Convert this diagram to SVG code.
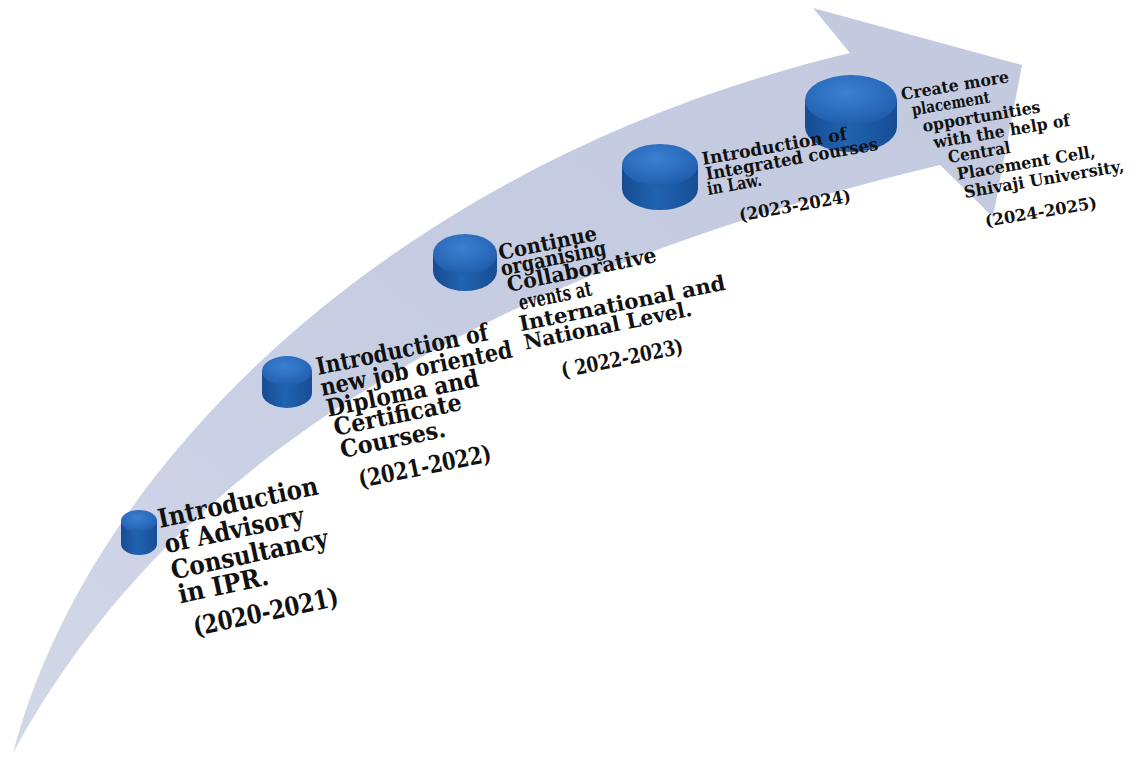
<svg xmlns="http://www.w3.org/2000/svg" width="1138" height="758" viewBox="0 0 1138 758">
<defs>
<linearGradient id="arrowFill" x1="0" y1="1" x2="1" y2="0">
<stop offset="0" stop-color="#d3d8e8"/>
<stop offset="0.5" stop-color="#c6cde2"/>
<stop offset="1" stop-color="#c3cadf"/>
</linearGradient>
<radialGradient id="topFace" cx="0.45" cy="0.35" r="0.7">
<stop offset="0" stop-color="#3b80d2"/>
<stop offset="0.7" stop-color="#2867b8"/>
<stop offset="1" stop-color="#1d5aa6"/>
</radialGradient>
<linearGradient id="sideFace" x1="0" y1="0" x2="1" y2="0">
<stop offset="0" stop-color="#164c92"/>
<stop offset="0.45" stop-color="#2063b0"/>
<stop offset="1" stop-color="#174e95"/>
</linearGradient>
<style>
.side{fill:url(#sideFace);}
.top{fill:url(#topFace);}
.lbl{font-family:"DejaVu Serif","Liberation Serif",serif;font-weight:bold;fill:#111;}
</style>
</defs>
<rect width="1138" height="758" fill="#ffffff"/>
<g id="connectors">
<path d="M13,753 C90,460 400,160 850,53 L813,8 L1022,65 L993,217 L940,165 C420,290 150,500 13,753 Z" fill="url(#arrowFill)"/>
</g>
<g id="node1">
<path class="side" d="M121,521 V544 A18,11 0 0 0 157,544 V521 Z"/>
<ellipse class="top" cx="139" cy="521" rx="18" ry="11"/>
<g transform="translate(160,528) rotate(-12)" class="lbl" font-size="26">
<text x="0" y="0" textLength="163" lengthAdjust="spacingAndGlyphs">Introduction</text>
<text x="1" y="26" textLength="142" lengthAdjust="spacingAndGlyphs">of Advisory</text>
<text x="2" y="53" textLength="160" lengthAdjust="spacingAndGlyphs">Consultancy</text>
<text x="4" y="78" textLength="92" lengthAdjust="spacingAndGlyphs">in IPR.</text>
<text x="12" y="113" textLength="148" lengthAdjust="spacingAndGlyphs">(2020-2021)</text>
</g>
</g>
<g id="node2">
<path class="side" d="M262,371 V393 A25,15 0 0 0 312,393 V371 Z"/>
<ellipse class="top" cx="287" cy="371" rx="25" ry="15"/>
<g transform="translate(318,375) rotate(-11.5)" class="lbl" font-size="24">
<text x="0" y="0" textLength="175" lengthAdjust="spacingAndGlyphs">Introduction of</text>
<text x="0" y="21.5" textLength="195" lengthAdjust="spacingAndGlyphs">new job oriented</text>
<text x="1.5" y="43" textLength="155" lengthAdjust="spacingAndGlyphs">Diploma and</text>
<text x="5" y="63" textLength="130" lengthAdjust="spacingAndGlyphs">Certificate</text>
<text x="7" y="86" textLength="107" lengthAdjust="spacingAndGlyphs">Courses.</text>
<text x="19" y="119" textLength="135" lengthAdjust="spacingAndGlyphs">(2021-2022)</text>
</g>
</g>
<g id="node3">
<path class="side" d="M433,254 V271 A32,20 0 0 0 497,271 V254 Z"/>
<ellipse class="top" cx="465" cy="254" rx="32" ry="20"/>
<g transform="translate(500,260) rotate(-11.5)" class="lbl" font-size="21">
<text x="0" y="0" textLength="100" lengthAdjust="spacingAndGlyphs">Continue</text>
<text x="-1" y="16" textLength="107" lengthAdjust="spacingAndGlyphs">organising</text>
<text x="2" y="33" textLength="152" lengthAdjust="spacingAndGlyphs">Collaborative</text>
<text x="10" y="53" textLength="74" lengthAdjust="spacingAndGlyphs">events at</text>
<text x="6" y="74" textLength="210" lengthAdjust="spacingAndGlyphs">International and</text>
<text x="7" y="93" textLength="171" lengthAdjust="spacingAndGlyphs">National Level.</text>
<text x="38" y="128" textLength="124" lengthAdjust="spacingAndGlyphs">( 2022-2023)</text>
</g>
</g>
<g id="node5">
<path class="side" d="M805,100 V127 A46,25 0 0 0 897,127 V100 Z"/>
<ellipse class="top" cx="851" cy="100" rx="46" ry="25"/>
<g transform="translate(902,100) rotate(-9.5)" class="lbl" font-size="16.5">
<text x="0" y="0" textLength="109" lengthAdjust="spacingAndGlyphs">Create more</text>
<text x="8" y="17" textLength="79" lengthAdjust="spacingAndGlyphs">placement</text>
<text x="16" y="35" textLength="119" lengthAdjust="spacingAndGlyphs">opportunities</text>
<text x="24" y="53" textLength="138" lengthAdjust="spacingAndGlyphs">with the help of</text>
<text x="36" y="70" textLength="63" lengthAdjust="spacingAndGlyphs">Central</text>
<text x="42" y="88" textLength="140" lengthAdjust="spacingAndGlyphs">Placement Cell,</text>
<text x="46" y="107" textLength="162" lengthAdjust="spacingAndGlyphs">Shivaji University,</text>
<text x="62" y="139" textLength="113" lengthAdjust="spacingAndGlyphs">(2024-2025)</text>
</g>
</g>
<g id="node4">
<path class="side" d="M622,165 V189 A38,21 0 0 0 698,189 V165 Z"/>
<ellipse class="top" cx="660" cy="165" rx="38" ry="21"/>
<g transform="translate(703,165) rotate(-10)" class="lbl" font-size="17.5">
<text x="0" y="0" textLength="147" lengthAdjust="spacingAndGlyphs">Introduction of</text>
<text x="1" y="15.5" textLength="175" lengthAdjust="spacingAndGlyphs">Integrated courses</text>
<text x="0" y="30.5" textLength="55" lengthAdjust="spacingAndGlyphs">in Law.</text>
<text x="27" y="62" textLength="113" lengthAdjust="spacingAndGlyphs">(2023-2024)</text>
</g>
</g>
</svg>
